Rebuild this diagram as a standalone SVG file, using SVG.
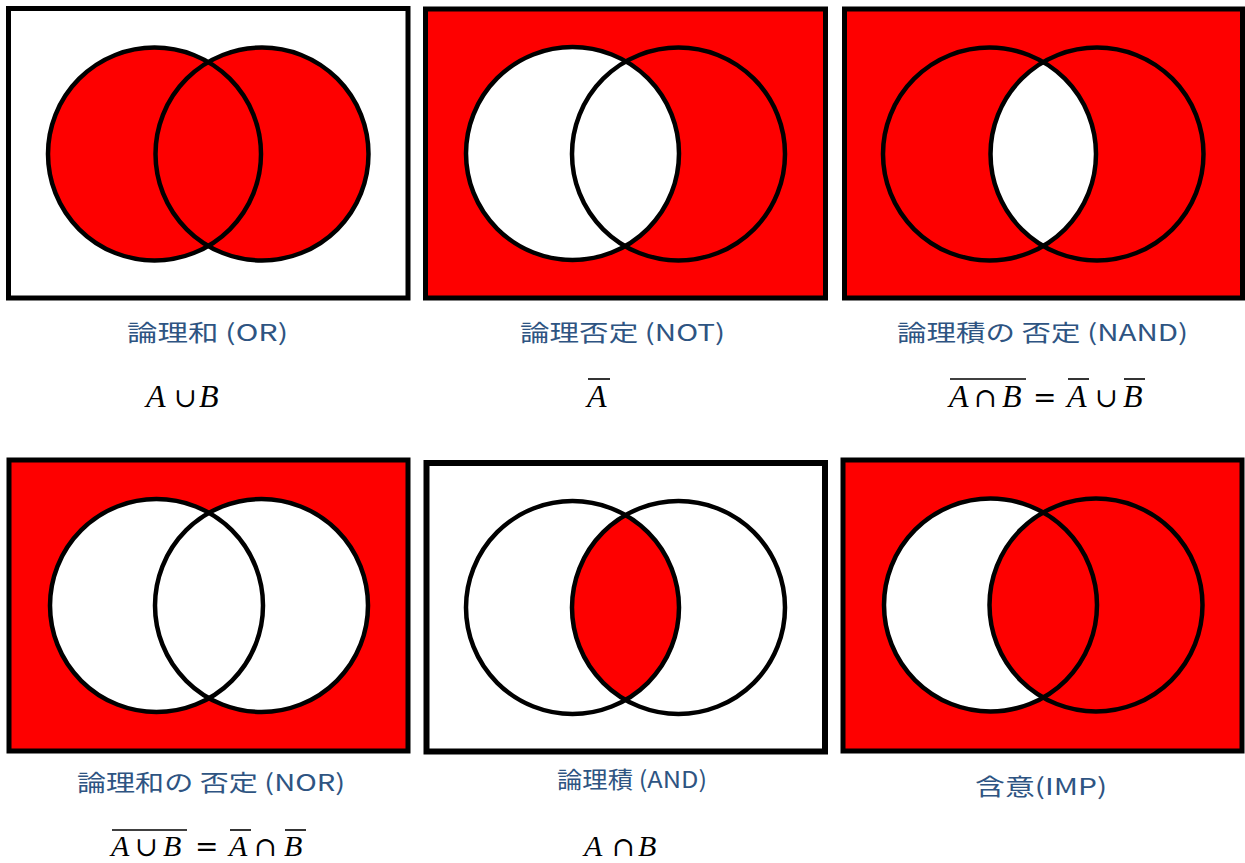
<svg xmlns="http://www.w3.org/2000/svg" width="1245" height="863" viewBox="0 0 1245 863">
<style>
.frame{stroke:#000;stroke-width:5}
.ring{fill:none;stroke:#000;stroke-width:4.5}
.red{fill:#fe0000}
.white{fill:#fff}
.lbl{font-family:"Noto Sans CJK JP","Noto Sans",sans-serif;font-size:23px;fill:#2e5482}
.m{font-family:"Liberation Serif","DejaVu Serif",serif;font-size:32px;fill:#000}
.m2{font-size:30px}
.mi{font-style:italic}
.op{font-family:"DejaVu Serif",serif;font-size:27px}
.eq{font-family:"DejaVu Serif",serif;font-size:28px}
.ov{stroke:#000;stroke-width:1.6}
</style>
<defs>
<clipPath id="cA2"><circle cx="989.5" cy="154" r="106.5"/></clipPath>
<clipPath id="cA5"><circle cx="572.5" cy="607.5" r="106.5"/></clipPath>
<clipPath id="cA6"><circle cx="990.5" cy="605" r="106.5"/></clipPath>
</defs>
<rect width="1245" height="863" fill="#fff"/>

<g id="panel-or">
<rect class="frame white" x="8.5" y="8.5" width="399.5" height="289.5"/>
<circle class="red" cx="154.5" cy="154" r="106.5"/>
<circle class="red" cx="262" cy="154" r="106.5"/>
<circle class="ring" cx="154.5" cy="154" r="106.5"/>
<circle class="ring" cx="262" cy="154" r="106.5"/>
</g>

<g id="panel-not">
<rect class="frame red" x="425.5" y="9" width="400" height="289"/>
<circle class="white" cx="572.5" cy="153.5" r="106.5"/>
<circle class="ring" cx="572.5" cy="153.5" r="106.5"/>
<circle class="ring" cx="678.5" cy="154" r="106.5"/>
</g>

<g id="panel-nand">
<rect class="frame red" x="844.5" y="9" width="398" height="289"/>
<circle class="white" cx="1097" cy="154" r="106.5" clip-path="url(#cA2)"/>
<circle class="ring" cx="989.5" cy="154" r="106.5"/>
<circle class="ring" cx="1097" cy="154" r="106.5"/>
</g>

<g id="panel-nor">
<rect class="frame red" x="9" y="460" width="399" height="291"/>
<circle class="white" cx="156.5" cy="605.5" r="106.5"/>
<circle class="white" cx="261.5" cy="605.5" r="106.5"/>
<circle class="ring" cx="156.5" cy="605.5" r="106.5"/>
<circle class="ring" cx="261.5" cy="605.5" r="106.5"/>
</g>

<g id="panel-and">
<rect class="frame white" x="426.5" y="463" width="398.5" height="288.5" style="stroke-width:6"/>
<circle class="red" cx="678.5" cy="607.5" r="106.5" clip-path="url(#cA5)"/>
<circle class="ring" cx="572.5" cy="607.5" r="106.5"/>
<circle class="ring" cx="678.5" cy="607.5" r="106.5"/>
</g>

<g id="panel-imp">
<rect class="frame red" x="843" y="460" width="399" height="291"/>
<circle class="white" cx="990.5" cy="605" r="106.5"/>
<circle class="red" cx="1096" cy="605" r="106.5" clip-path="url(#cA6)"/>
<circle class="ring" cx="990.5" cy="605" r="106.5"/>
<circle class="ring" cx="1096" cy="605" r="106.5"/>
</g>

<g id="labels">
<text class="lbl" x="127" y="341" textLength="161" lengthAdjust="spacingAndGlyphs">論理和 (OR)</text>
<text class="lbl" x="520" y="341" textLength="205" lengthAdjust="spacingAndGlyphs">論理否定 (NOT)</text>
<text class="lbl" x="897" y="341" textLength="291" lengthAdjust="spacingAndGlyphs">論理積の 否定 (NAND)</text>
<text class="lbl" x="77" y="791" textLength="268" lengthAdjust="spacingAndGlyphs">論理和の 否定 (NOR)</text>
<text class="lbl" x="557" y="788" textLength="150" lengthAdjust="spacingAndGlyphs">論理積 (AND)</text>
<text class="lbl" x="975" y="795" textLength="132" lengthAdjust="spacingAndGlyphs">含意(IMP)</text>
</g>

<g id="formulas">
<text class="m" y="407"><tspan class="mi" x="146">A</tspan><tspan class="op" x="174">∪</tspan><tspan class="mi" x="199">B</tspan></text>
<text class="m" y="407"><tspan class="mi" x="587">A</tspan></text>
<line class="ov" x1="588" y1="379" x2="610" y2="379"/>
<text class="m" y="407"><tspan class="mi" x="949">A</tspan><tspan class="op" x="974">∩</tspan><tspan class="mi" x="1002">B</tspan><tspan class="eq" x="1033">=</tspan><tspan class="mi" x="1067">A</tspan><tspan class="op" x="1095">∪</tspan><tspan class="mi" x="1123">B</tspan></text>
<line class="ov" x1="950" y1="379" x2="1026" y2="379"/>
<line class="ov" x1="1068" y1="379" x2="1089" y2="379"/>
<line class="ov" x1="1124" y1="379" x2="1145" y2="379"/>
<text class="m m2" y="856"><tspan class="mi" x="111">A</tspan><tspan class="op" x="135">∪</tspan><tspan class="mi" x="163">B</tspan><tspan class="eq" x="195">=</tspan><tspan class="mi" x="229">A</tspan><tspan class="op" x="254">∩</tspan><tspan class="mi" x="284">B</tspan></text>
<line class="ov" x1="112" y1="830" x2="187" y2="830"/>
<line class="ov" x1="230" y1="830" x2="251" y2="830"/>
<line class="ov" x1="285" y1="830" x2="306" y2="830"/>
<text class="m m2" y="856"><tspan class="mi" x="584">A</tspan><tspan class="op" x="612">∩</tspan><tspan class="mi" x="638">B</tspan></text>
</g>
</svg>
